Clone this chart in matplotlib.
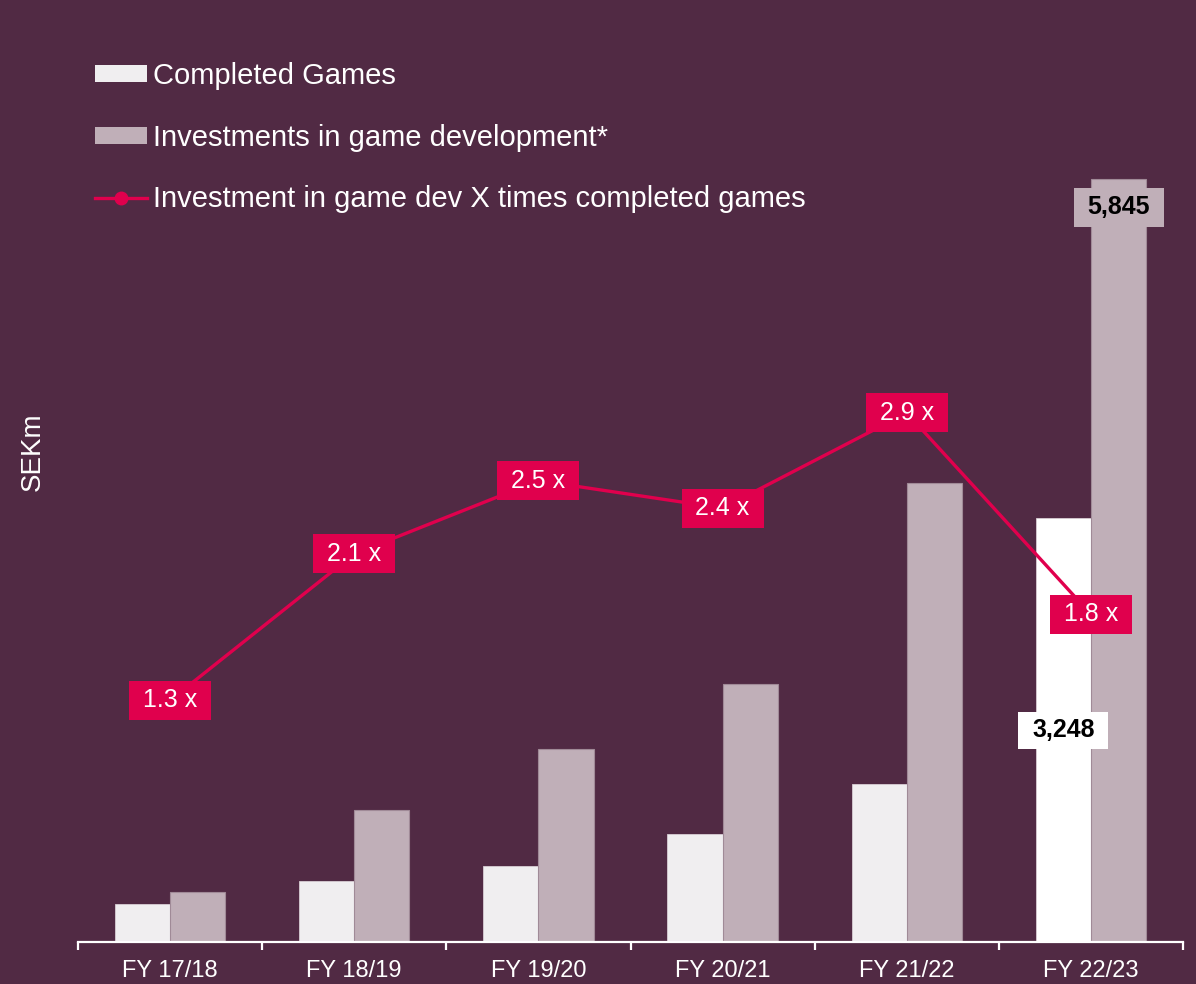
import matplotlib
matplotlib.use('Agg')
import numpy as np
import matplotlib.pyplot as plt
from matplotlib.path import Path
from matplotlib.lines import Line2D
from matplotlib.patches import Patch

# ---------------- data ----------------
categories = ["FY 17/18", "FY 18/19", "FY 19/20", "FY 20/21", "FY 21/22", "FY 22/23"]
completed_games = [291, 470, 580, 826, 1208, 3248]
investments = [386, 1011, 1479, 1979, 3519, 5845]
multiple = [1.32, 2.12, 2.52, 2.37, 2.89, 1.79]
multiple_labels = ["1.3 x", "2.1 x", "2.5 x", "2.4 x", "2.9 x", "1.8 x"]
series_names = ["Completed Games",
                "Investments in game development*",
                "Investment in game dev X times completed games"]
y_label = "SEKm"

# ---------------- style ----------------
BG = '#512A44'
RED = '#E0004D'
C_COMPLETED = '#F0EEF0'
C_COMPLETED_LAST = '#FFFFFF'
C_INVEST = '#C0AFB8'

plt.rcParams['font.family'] = ['Liberation Sans', 'DejaVu Sans']


def fixed_box(bw, bh):
    """Box style of fixed pixel size, centred on the text box."""
    def style(x0, y0, width, height, mutation_size):
        cx = x0 + width / 2.0
        cy = y0 + height / 2.0
        xa, xb = cx - bw / 2.0, cx + bw / 2.0
        ya, yb = cy - bh / 2.0, cy + bh / 2.0
        return Path([(xa, ya), (xb, ya), (xb, yb), (xa, yb), (xa, ya)], closed=True)
    return style


W, H = 1196, 984
fig = plt.figure(figsize=(W / 100, H / 100), dpi=100, facecolor=BG)
left, right, bottom, top = 78, 1183, 942, 120
ax = fig.add_axes([left / W, 1 - bottom / H, (right - left) / W, (bottom - top) / H])
ax.set_facecolor(BG)

x = np.arange(len(categories))
w = 0.3
comp_colors = [C_COMPLETED] * (len(categories) - 1) + [C_COMPLETED_LAST]
ax.bar(x - w / 2, completed_games, w, color=comp_colors, edgecolor='#D8CDD4', linewidth=0.6, zorder=2)
ax.bar(x + w / 2, investments, w, color=C_INVEST, edgecolor='#A08A97', linewidth=0.8, zorder=2)

ax.set_xlim(-0.5, len(categories) - 0.5)
ax.set_ylim(0, 6300)

for s in ['left', 'right', 'top']:
    ax.spines[s].set_visible(False)
ax.spines['bottom'].set_color('white')
ax.spines['bottom'].set_linewidth(1.6)
ax.set_yticks([])
ax.set_xticks(x)
ax.set_xticklabels(categories, color='white', fontsize=17)
ax.tick_params(axis='x', which='major', length=0, pad=13)
ax.set_xticks(np.arange(-0.5, len(categories)), minor=True)
ax.tick_params(axis='x', which='minor', length=6, width=1.6, color='white', direction='out')

# value labels on last pair of bars
ax.annotate(f"{investments[-1]:,}", xy=(x[-1] + w / 2, investments[-1]), xytext=(0, -28),
            textcoords='offset pixels', ha='center', va='center', fontsize=18, fontweight='bold',
            color='black', zorder=5,
            bbox=dict(boxstyle=fixed_box(90, 39), facecolor=C_INVEST, edgecolor='none'))
ax.text(x[-1] - w / 2, completed_games[-1] / 2, f"{completed_games[-1]:,}", ha='center', va='center',
        fontsize=18, fontweight='bold', color='black', zorder=5,
        bbox=dict(boxstyle=fixed_box(90, 37), facecolor='white', edgecolor='none'))

# multiple line on secondary axis
ax2 = ax.twinx()
ax2.set_ylim(0, 4.49)
ax2.patch.set_visible(False)
for s in ax2.spines.values():
    s.set_visible(False)
ax2.set_yticks([])
ax2.plot(x, multiple, color=RED, lw=2.4, marker='o', ms=9, zorder=2)
for xi, yi, lab in zip(x, multiple, multiple_labels):
    ax2.text(xi, yi, lab, ha='center', va='center', color='white', fontsize=18, zorder=4,
             bbox=dict(boxstyle=fixed_box(82, 39), facecolor=RED, edgecolor='none'))

# y label
fig.text(33 / W, 1 - 452 / H, y_label, rotation=90, ha='center', va='center', color='white', fontsize=20)

# legend
handles = [Patch(facecolor=C_COMPLETED, edgecolor='none'),
           Patch(facecolor=C_INVEST, edgecolor='none'),
           Line2D([], [], color=RED, lw=2.4, marker='o', ms=9)]
fig.legend(handles, series_names, loc='upper left', bbox_to_anchor=(95 / W, 1 - 62 / H),
           frameon=False, fontsize=21, labelcolor='white', handlelength=1.78, handleheight=0.51,
           handletextpad=0.2, labelspacing=1.15, borderpad=0, borderaxespad=0)

fig.savefig('out.png', dpi=100, facecolor=BG)
